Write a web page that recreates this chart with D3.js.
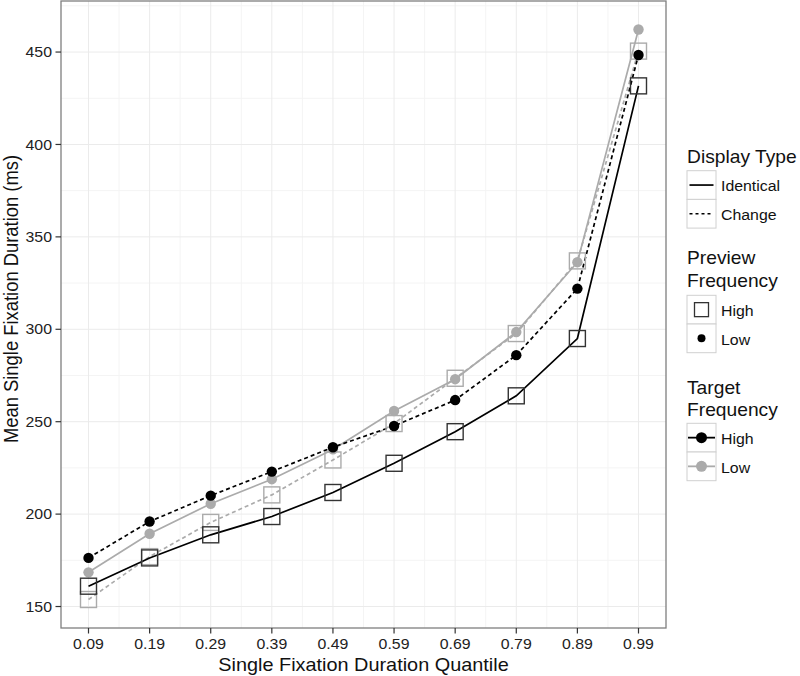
<!DOCTYPE html>
<html>
<head>
<meta charset="utf-8">
<script src="https://cdn.jsdelivr.net/npm/d3@7/dist/d3.min.js"></script>
<style>
  html, body { margin: 0; padding: 0; background: #fff; }
  svg { display: block; font-family: "Liberation Sans", Arial, Helvetica, sans-serif; }
</style>
</head>
<body>
<svg id="chart" width="800" height="676"></svg>
<script>
// ---- data ----
const quantiles = [0.09, 0.19, 0.29, 0.39, 0.49, 0.59, 0.69, 0.79, 0.89, 0.99];
const xTickLabels = ["0.09", "0.19", "0.29", "0.39", "0.49", "0.59", "0.69", "0.79", "0.89", "0.99"];
const yTicks = [150, 200, 250, 300, 350, 400, 450];

// Identical display, high-frequency preview & target
const identicalHigh = [161, 176.3, 188.8, 198.7, 211.7, 227.5, 244.6, 264, 295, 431.7];
// Identical display, low-frequency preview & target
const identicalLow = [168.5, 189.4, 205.6, 218.9, 235, 255.8, 273, 298.5, 336.3, 462.2];
// Change display, target high, preview low
const changeTargetHigh = [176.3, 196, 210, 223, 236.2, 247.7, 261.7, 286, 322, 448.4];
// Change display, target low, preview high
const changeTargetLow = [153.8, 177, 195.5, 210.4, 229.3, 249, 273.5, 297.7, 337, 450.5];

const displayTypes = ["Identical", "Change"];
const previewLevels = ["High", "Low"];
const targetLevels = ["High", "Low"];

const xTitle = "Single Fixation Duration Quantile";
const yTitle = "Mean Single Fixation Duration (ms)";

// ---- styles ----
const colorOf = { High: "#000000", Low: "#ababab" };
const squareStroke = { High: "#333333", Low: "#ababab" };
const dashOf = { Identical: null, Change: "4,3" };
const SX = 1.08;               // horizontal stretch of the text glyphs
const titleSize = 18.4, labSize = 14.7;

const series = [
  { display: "Identical", preview: "Low", target: "Low", values: identicalLow },
  { display: "Change", preview: "High", target: "Low", values: changeTargetLow },
  { display: "Change", preview: "Low", target: "High", values: changeTargetHigh },
  { display: "Identical", preview: "High", target: "High", values: identicalHigh }
];

const svg = d3.select("#chart");
const panel = { left: 61, top: 1, right: 666, bottom: 628 };

const allVals = series.flatMap(s => s.values);
const yMin = d3.min(allVals), yMax = d3.max(allVals);
const yPad = (yMax - yMin) * 0.05;
const xMin = d3.min(quantiles), xMax = d3.max(quantiles);
const xPad = (xMax - xMin) * 0.05;

const x = d3.scaleLinear().domain([xMin - xPad, xMax + xPad]).range([panel.left, panel.right]);
const y = d3.scaleLinear().domain([yMin - yPad, yMax + yPad]).range([panel.bottom, panel.top]);

function stretchedText(parent, px, py, txt, size, anchor, fill) {
  return parent.append("text")
    .attr("transform", `translate(${px},${py}) scale(${SX},1)`)
    .attr("text-anchor", anchor || "start")
    .attr("font-size", size)
    .attr("fill", fill || "#111")
    .text(txt);
}

// panel background
svg.append("rect").attr("x", panel.left).attr("y", panel.top)
  .attr("width", panel.right - panel.left).attr("height", panel.bottom - panel.top)
  .attr("fill", "#fff");

// grid
const g = svg.append("g");
const xMinor = d3.range(0, quantiles.length + 1).map(i => quantiles[0] - 0.05 + i * 0.1)
  .filter(v => v > x.domain()[0] && v < x.domain()[1]);
const yMinor = d3.range(0, yTicks.length + 1).map(i => yTicks[0] - 25 + i * 50)
  .filter(v => v > y.domain()[0] && v < y.domain()[1]);
g.selectAll(".xminor").data(xMinor).join("line")
  .attr("x1", d => x(d)).attr("x2", d => x(d)).attr("y1", panel.top).attr("y2", panel.bottom)
  .attr("stroke", "#f4f4f4").attr("stroke-width", 1);
g.selectAll(".yminor").data(yMinor).join("line")
  .attr("y1", d => y(d)).attr("y2", d => y(d)).attr("x1", panel.left).attr("x2", panel.right)
  .attr("stroke", "#f4f4f4").attr("stroke-width", 1);
g.selectAll(".xmajor").data(quantiles).join("line")
  .attr("x1", d => x(d)).attr("x2", d => x(d)).attr("y1", panel.top).attr("y2", panel.bottom)
  .attr("stroke", "#ebebeb").attr("stroke-width", 1);
g.selectAll(".ymajor").data(yTicks).join("line")
  .attr("y1", d => y(d)).attr("y2", d => y(d)).attr("x1", panel.left).attr("x2", panel.right)
  .attr("stroke", "#ebebeb").attr("stroke-width", 1);

// lines
const line = d3.line().x((d, i) => x(quantiles[i])).y(d => y(d));
const marks = svg.append("g");
series.forEach(s => {
  marks.append("path").datum(s.values)
    .attr("d", line)
    .attr("fill", "none")
    .attr("stroke", colorOf[s.target])
    .attr("stroke-width", 1.7)
    .attr("stroke-dasharray", dashOf[s.display]);
});
// points
series.forEach(s => {
  const pts = marks.append("g");
  if (s.preview === "High") {
    pts.selectAll("rect").data(s.values).join("rect")
      .attr("x", (d, i) => x(quantiles[i]) - 8)
      .attr("y", d => y(d) - 8)
      .attr("width", 16).attr("height", 16)
      .attr("fill", "none")
      .attr("stroke", squareStroke[s.target])
      .attr("stroke-width", 1.4);
  } else {
    pts.selectAll("circle").data(s.values).join("circle")
      .attr("cx", (d, i) => x(quantiles[i]))
      .attr("cy", d => y(d))
      .attr("r", 5.2)
      .attr("fill", colorOf[s.target]);
  }
});

// panel border
svg.append("rect").attr("x", panel.left).attr("y", panel.top)
  .attr("width", panel.right - panel.left).attr("height", panel.bottom - panel.top)
  .attr("fill", "none").attr("stroke", "#7f7f7f").attr("stroke-width", 1.3);

// axes ticks & labels
const axisColor = "#333333";
svg.selectAll(".ytick").data(yTicks).join("line")
  .attr("x1", panel.left - 5.5).attr("x2", panel.left)
  .attr("y1", d => y(d)).attr("y2", d => y(d))
  .attr("stroke", axisColor).attr("stroke-width", 1.2);
yTicks.forEach(t => stretchedText(svg, panel.left - 9, y(t) + 5.2, t, labSize, "end", "#222"));
svg.selectAll(".xtick").data(quantiles).join("line")
  .attr("x1", d => x(d)).attr("x2", d => x(d))
  .attr("y1", panel.bottom).attr("y2", panel.bottom + 5.5)
  .attr("stroke", axisColor).attr("stroke-width", 1.2);
quantiles.forEach((q, i) => stretchedText(svg, x(q), 648.6, xTickLabels[i], labSize, "middle", "#222"));

// axis titles
stretchedText(svg, (panel.left + panel.right) / 2, 671, xTitle, titleSize, "middle", "#111");
svg.append("text")
  .attr("transform", `translate(18,299) scale(${SX},1) rotate(-90)`)
  .attr("text-anchor", "middle").attr("font-size", titleSize).attr("fill", "#111")
  .text(yTitle);

// ---- legends ----
const leg = svg.append("g");
const keyX = 687, keyW = 29, keyH = 28.7, labX = 721;
const legTitleSize = 17.8;

function keyBox(yTop) {
  leg.append("rect").attr("x", keyX).attr("y", yTop).attr("width", keyW).attr("height", keyH)
    .attr("fill", "#fff").attr("stroke", "#d0d0d0").attr("stroke-width", 1);
}
function keyLabel(yTop, txt) {
  stretchedText(leg, labX, yTop + keyH / 2 + 6.2, txt, labSize, "start", "#111");
}
function legTitle(lines, baseY) {
  lines.forEach((t, i) => stretchedText(leg, keyX, baseY + i * 22.4, t, legTitleSize, "start", "#111"));
}

// Display Type
legTitle(["Display Type"], 163.3);
displayTypes.forEach((d, i) => {
  const yt = 170.7 + i * keyH;
  keyBox(yt);
  leg.append("line").attr("x1", keyX + 2.5).attr("x2", keyX + keyW - 2.5)
    .attr("y1", yt + keyH / 2).attr("y2", yt + keyH / 2)
    .attr("stroke", "#000").attr("stroke-width", 1.7)
    .attr("stroke-dasharray", d === "Change" ? "3,3" : null);
  keyLabel(yt, d);
});

// Preview Frequency
legTitle(["Preview", "Frequency"], 264.3);
previewLevels.forEach((p, i) => {
  const yt = 295.3 + i * keyH;
  keyBox(yt);
  const cx = keyX + keyW / 2, cy = yt + keyH / 2;
  if (p === "High") {
    leg.append("rect").attr("x", cx - 7).attr("y", cy - 7).attr("width", 14).attr("height", 14)
      .attr("fill", "none").attr("stroke", "#333").attr("stroke-width", 1.3);
  } else {
    leg.append("circle").attr("cx", cx).attr("cy", cy).attr("r", 4).attr("fill", "#000");
  }
  keyLabel(yt, p);
});

// Target Frequency
legTitle(["Target", "Frequency"], 394);
targetLevels.forEach((t, i) => {
  const yt = 423.3 + i * keyH;
  keyBox(yt);
  const cx = keyX + keyW / 2, cy = yt + keyH / 2;
  leg.append("line").attr("x1", keyX + 1).attr("x2", keyX + keyW - 1)
    .attr("y1", cy).attr("y2", cy)
    .attr("stroke", colorOf[t]).attr("stroke-width", 1.8);
  leg.append("circle").attr("cx", cx).attr("cy", cy).attr("r", 5.5).attr("fill", colorOf[t]);
  keyLabel(yt, t);
});
</script>
</body>
</html>
